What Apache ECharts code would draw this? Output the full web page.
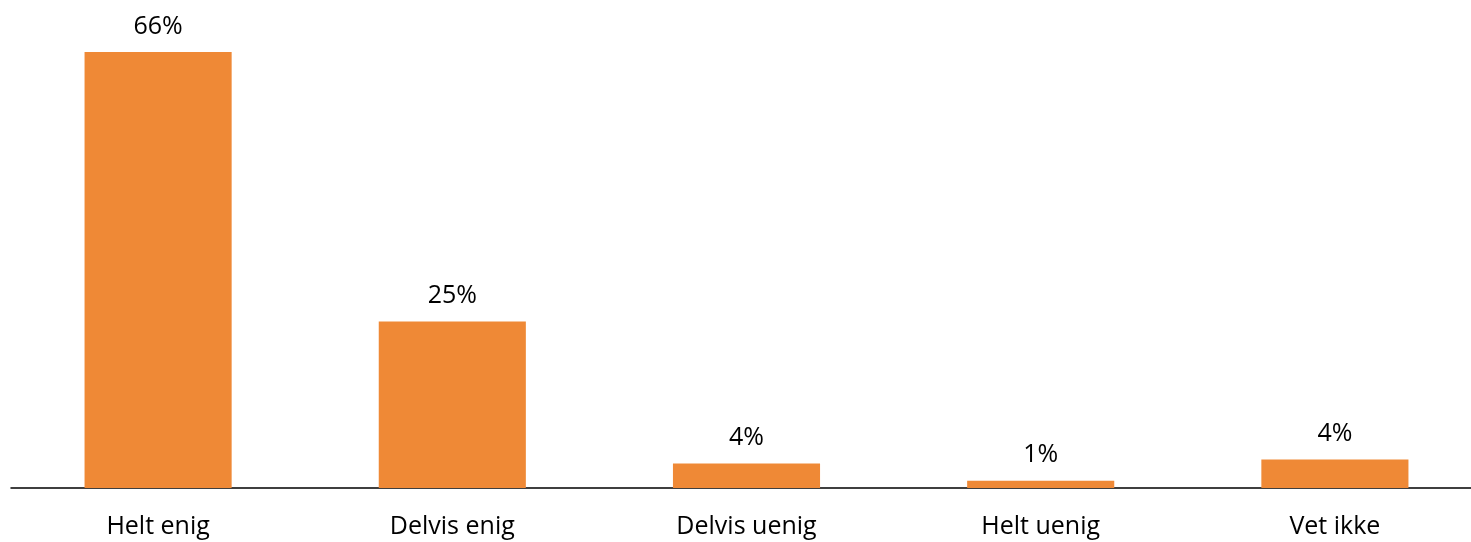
<!DOCTYPE html>
<html>
<head>
<meta charset="utf-8">
<script src="https://cdn.jsdelivr.net/npm/echarts@6/dist/echarts.min.js"></script>
<style>
html,body{margin:0;padding:0;background:#fff;overflow:hidden;}
#c{width:1482px;height:542px;}
</style>
</head>
<body>
<div id="c"></div>
<script>
const categories = ["Helt enig", "Delvis enig", "Delvis uenig", "Helt uenig", "Vet ikke"];
const values = [66, 25.2, 3.7, 1.1, 4.3];

const chart = echarts.init(document.getElementById('c'), null, {renderer: 'canvas'});
chart.setOption({
  animation: false,
  backgroundColor: '#fff',
  grid: {left: 11, top: 52, right: 0, bottom: 54, containLabel: false},
  xAxis: {
    type: 'category',
    data: categories,
    axisLine: {lineStyle: {color: '#000', width: 1.5}},
    axisTick: {show: false},
    axisLabel: {color: '#000', fontFamily: 'Open Sans', fontSize: 25, margin: 26}
  },
  yAxis: {
    type: 'value', min: 0, max: 66, show: false, splitLine: {show: false}
  },
  series: [{
    type: 'bar',
    data: values,
    barWidth: '50%',
    itemStyle: {color: '#EF8936'},
    label: {
      show: true, position: 'top', distance: 13,
      color: '#000', fontFamily: 'Open Sans', fontSize: 25,
      formatter: p => Math.round(p.value) + '%'
    }
  }]
});
</script>
</body>
</html>
